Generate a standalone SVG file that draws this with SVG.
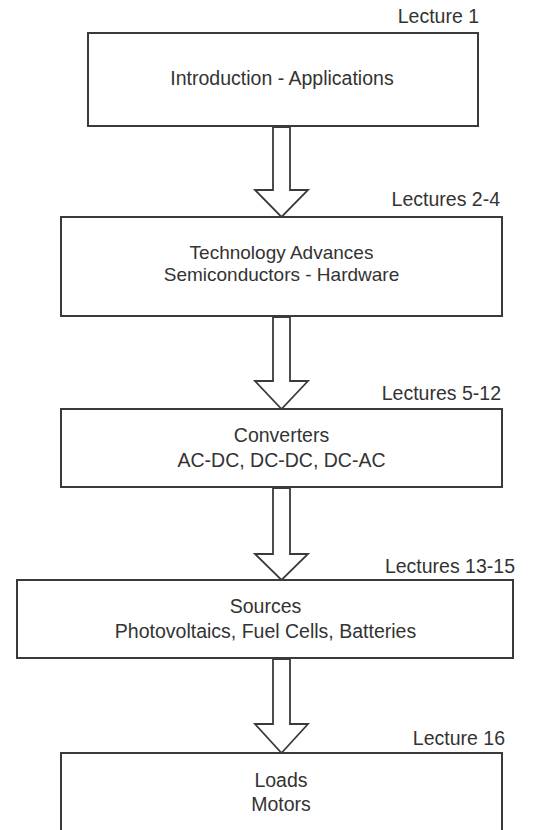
<svg xmlns="http://www.w3.org/2000/svg" width="552" height="830" viewBox="0 0 552 830">
<style>
.box{fill:#fff;stroke:#3a3a3a;stroke-width:2}
.arr{fill:#fff;stroke:#3a3a3a;stroke-width:1.8;stroke-linejoin:miter}
text{font-family:"Liberation Sans",Arial,sans-serif;font-size:19.5px;fill:#333}
.s{font-size:19px}
.c{text-anchor:middle}
.r{text-anchor:end}
</style>
<rect width="552" height="830" fill="#fff"/>
<g id="connectors">
<polygon class="arr" points="273,127 273,190 255,190 281.5,217 308,190 290,190 290,127"/>
<polygon class="arr" points="273,317 273,381 255,381 281.5,409 308,381 290,381 290,317"/>
<polygon class="arr" points="273,488 273,554 255,554 281.5,580 308,554 290,554 290,488"/>
<polygon class="arr" points="273,659 273,724 255,724 281.5,753 308,724 290,724 290,659"/>
</g>
<g id="node1">
<rect class="box" x="88" y="33" width="390" height="93"/>
<text class="c" x="282" y="85">Introduction - Applications</text>
<text class="r" x="479" y="23">Lecture 1</text>
</g>
<g id="node2">
<rect class="box" x="61" y="217" width="441" height="99"/>
<text class="c s" x="281.5" y="258.5">Technology Advances</text>
<text class="c s" x="281.5" y="280.5">Semiconductors - Hardware</text>
<text class="r" x="500" y="206">Lectures 2-4</text>
</g>
<g id="node3">
<rect class="box" x="61" y="409" width="441" height="78"/>
<text class="c" x="281.5" y="442">Converters</text>
<text class="c" x="281.5" y="467">AC-DC, DC-DC, DC-AC</text>
<text class="r" x="501" y="400">Lectures 5-12</text>
</g>
<g id="node4">
<rect class="box" x="17" y="580" width="496" height="78"/>
<text class="c" x="265.5" y="613">Sources</text>
<text class="c" x="265.5" y="638">Photovoltaics, Fuel Cells, Batteries</text>
<text class="r" x="515" y="573">Lectures 13-15</text>
</g>
<g id="node5">
<rect class="box" x="61" y="753" width="441" height="90"/>
<text class="c" x="281" y="787">Loads</text>
<text class="c" x="281" y="811">Motors</text>
<text class="r" x="505" y="745">Lecture 16</text>
</g>
</svg>
